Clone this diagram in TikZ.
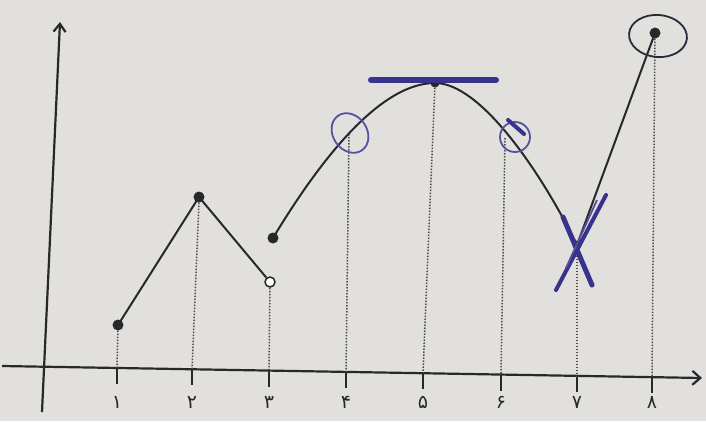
\documentclass[tikz,border=0pt]{standalone}
\usepackage{fontspec}
\newfontfamily\arabicfont[Script=Arabic]{DejaVu Sans}
\usetikzlibrary{arrows.meta}
\definecolor{paper}{RGB}{226,224,221}
\definecolor{pencil}{RGB}{40,40,44}
\definecolor{marker}{RGB}{55,50,140}
\tikzset{
  dot/.style={circle,fill=pencil,inner sep=0pt,minimum size=11pt},
  hole/.style={circle,draw=pencil,fill=white,line width=1.5pt,inner sep=0pt,minimum size=10pt},
  graphline/.style={draw=pencil,line width=2pt},
  guide/.style={draw=pencil!85,line width=1.5pt,dash pattern=on 1.5pt off 1.5pt},
  axisline/.style={draw=pencil,line width=2.2pt},
  tickmark/.style={draw=pencil,line width=1.8pt},
  ticklabel/.style={font=\arabicfont\fontsize{19}{19}\selectfont,text=pencil},
  thinblue/.style={draw=marker!85,line width=1.8pt},
}
\begin{document}
\begin{tikzpicture}[x=1pt,y=-1pt]
\fill[paper] (0,0) rectangle (706,421);
\useasboundingbox (0,0) rectangle (706,421);
% axes
\coordinate (xa) at (2,366);
\coordinate (xb) at (702,378);
\coordinate (ya) at (42,412);
\coordinate (yb) at (60,22);
\draw[axisline,-{Straight Barb[length=8pt,width=14pt]}] (xa) -- (xb);
\draw[axisline,-{Straight Barb[length=8pt,width=12pt]}] (ya) -- (yb);
% ticks and labels
\foreach \i/\x/\lab in {1/117/۱,2/192/۲,3/269/۳,4/346/۴,5/423/۵,6/501/۶,7/577/۷,8/652/۸}{
  \coordinate (t\i) at (\x,{366+12*(\x-2)/700});
  \coordinate (tb\i) at (\x,{382+12*(\x-2)/700});
  \draw[tickmark] (t\i) -- (tb\i);
  \node[ticklabel] (l\i) at (\x,402) {\lab};
}
% points
\node[dot] (p1) at (118,325) {};
\node[dot] (p2) at (199,197) {};
\node[hole] (p3) at (270,282) {};
\node[dot] (p4) at (273,238) {};
\node[dot,minimum size=9pt] (p5) at (435,83) {};
\node[dot,minimum size=9pt] (p7) at (577,245) {};
\node[dot] (p8) at (655,33) {};
\coordinate (c4) at (349,134);
\coordinate (c6) at (505,138);
% guide lines
\draw[guide] (p1) -- (t1);
\draw[guide] (p2.south) -- (t2);
\draw[guide] (p3) -- (t3);
\draw[guide] (c4) -- (t4);
\draw[guide] (p5) -- (t5);
\draw[guide] (c6) -- (t6);
\draw[guide] (p7) -- (t7);
\draw[guide] (p8) -- (t8);
% graph
\draw[graphline] (p1.center) -- (p2.center) -- (p3);
\draw[graphline] (p4.center) .. controls (320,160) and (380,83) .. (p5.center)
  .. controls (480,83) and (540,170) .. (p7.center) -- (p8.center);
% blue marks
\draw[draw=marker,line width=6pt,line cap=round] (371,80) -- (496,80);
\draw[thinblue,rotate around={35:(350,133)}] (350,133) ellipse (17pt and 21pt);
\draw[thinblue] (515,137) circle (15pt);
\draw[draw=marker,line width=4pt,line cap=round] (508,120) -- (524,134);
\draw[draw=marker,line width=5pt,line cap=round] (563,217) -- (592,285);
\draw[draw=marker,line width=4pt,line cap=round] (556,290) -- (606,195);
\draw[thinblue] (597,200) -- (566,268);
\draw[draw=pencil!85!marker,line width=1.8pt,rotate around={-5:(658,36)}] (658,36) ellipse (29pt and 21pt);
\end{tikzpicture}
\end{document}
